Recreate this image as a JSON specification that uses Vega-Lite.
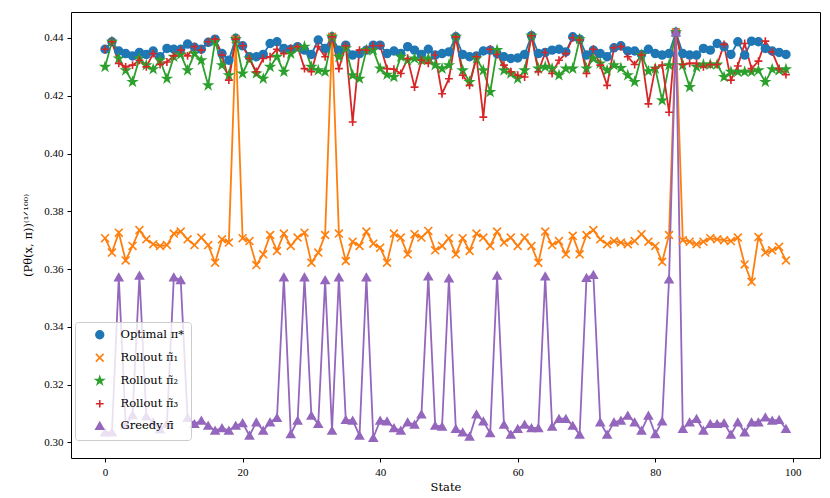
{
  "$schema": "https://vega.github.io/schema/vega-lite/v6.json",
  "width": 749,
  "height": 446,
  "autosize": {"type": "none"},
  "padding": {"left": 71, "top": 12, "right": 10, "bottom": 40},
  "background": "white",
  "data": {
    "values": [
      {"s": 0, "a": 0.4361, "b": 0.3707, "c": 0.4300, "d": 0.4361, "e": 0.3035},
      {"s": 1, "a": 0.4387, "b": 0.3657, "c": 0.4387, "d": 0.4387, "e": 0.3035},
      {"s": 2, "a": 0.4355, "b": 0.3726, "c": 0.4329, "d": 0.4312, "e": 0.3572},
      {"s": 3, "a": 0.4346, "b": 0.3630, "c": 0.4288, "d": 0.4300, "e": 0.3060},
      {"s": 4, "a": 0.4338, "b": 0.3680, "c": 0.4248, "d": 0.4306, "e": 0.3095},
      {"s": 5, "a": 0.4350, "b": 0.3735, "c": 0.4329, "d": 0.4323, "e": 0.3578},
      {"s": 6, "a": 0.4343, "b": 0.3703, "c": 0.4306, "d": 0.4300, "e": 0.3090},
      {"s": 7, "a": 0.4355, "b": 0.3686, "c": 0.4292, "d": 0.4346, "e": 0.3070},
      {"s": 8, "a": 0.4335, "b": 0.3680, "c": 0.4323, "d": 0.4308, "e": 0.3045},
      {"s": 9, "a": 0.4364, "b": 0.3683, "c": 0.4259, "d": 0.4317, "e": 0.3065},
      {"s": 10, "a": 0.4361, "b": 0.3723, "c": 0.4335, "d": 0.4338, "e": 0.3572},
      {"s": 11, "a": 0.4361, "b": 0.3730, "c": 0.4343, "d": 0.4358, "e": 0.3562},
      {"s": 12, "a": 0.4379, "b": 0.3703, "c": 0.4288, "d": 0.4338, "e": 0.3085},
      {"s": 13, "a": 0.4368, "b": 0.3683, "c": 0.4346, "d": 0.4370, "e": 0.3064},
      {"s": 14, "a": 0.4361, "b": 0.3709, "c": 0.4323, "d": 0.4358, "e": 0.3076},
      {"s": 15, "a": 0.4385, "b": 0.3683, "c": 0.4236, "d": 0.4387, "e": 0.3058},
      {"s": 16, "a": 0.4396, "b": 0.3622, "c": 0.4389, "d": 0.4396, "e": 0.3041},
      {"s": 17, "a": 0.4346, "b": 0.3703, "c": 0.4306, "d": 0.4341, "e": 0.3050},
      {"s": 18, "a": 0.4323, "b": 0.3692, "c": 0.4271, "d": 0.4254, "e": 0.3041},
      {"s": 19, "a": 0.4399, "b": 0.4396, "c": 0.4396, "d": 0.4396, "e": 0.3058},
      {"s": 20, "a": 0.4373, "b": 0.3707, "c": 0.4277, "d": 0.4373, "e": 0.3067},
      {"s": 21, "a": 0.4335, "b": 0.3697, "c": 0.4329, "d": 0.4329, "e": 0.3024},
      {"s": 22, "a": 0.4335, "b": 0.3614, "c": 0.4277, "d": 0.4283, "e": 0.3070},
      {"s": 23, "a": 0.4343, "b": 0.3651, "c": 0.4259, "d": 0.4329, "e": 0.3041},
      {"s": 24, "a": 0.4381, "b": 0.3718, "c": 0.4300, "d": 0.4335, "e": 0.3070},
      {"s": 25, "a": 0.4387, "b": 0.3663, "c": 0.4335, "d": 0.4361, "e": 0.3085},
      {"s": 26, "a": 0.4364, "b": 0.3723, "c": 0.4283, "d": 0.4346, "e": 0.3572},
      {"s": 27, "a": 0.4361, "b": 0.3680, "c": 0.4346, "d": 0.4364, "e": 0.3029},
      {"s": 28, "a": 0.4370, "b": 0.3709, "c": 0.4364, "d": 0.4370, "e": 0.3076},
      {"s": 29, "a": 0.4358, "b": 0.3726, "c": 0.4370, "d": 0.4294, "e": 0.3572},
      {"s": 30, "a": 0.4343, "b": 0.3622, "c": 0.4300, "d": 0.4283, "e": 0.3093},
      {"s": 31, "a": 0.4393, "b": 0.3657, "c": 0.4288, "d": 0.4370, "e": 0.3064},
      {"s": 32, "a": 0.4364, "b": 0.3718, "c": 0.4283, "d": 0.4335, "e": 0.3562},
      {"s": 33, "a": 0.4404, "b": 0.4404, "c": 0.4404, "d": 0.4404, "e": 0.3041},
      {"s": 34, "a": 0.4358, "b": 0.3723, "c": 0.4335, "d": 0.4294, "e": 0.3572},
      {"s": 35, "a": 0.4375, "b": 0.3628, "c": 0.4364, "d": 0.4373, "e": 0.3078},
      {"s": 36, "a": 0.4341, "b": 0.3695, "c": 0.4271, "d": 0.4109, "e": 0.3076},
      {"s": 37, "a": 0.4346, "b": 0.3680, "c": 0.4259, "d": 0.4358, "e": 0.3024},
      {"s": 38, "a": 0.4358, "b": 0.3730, "c": 0.4358, "d": 0.4358, "e": 0.3572},
      {"s": 39, "a": 0.4375, "b": 0.3688, "c": 0.4358, "d": 0.4373, "e": 0.3016},
      {"s": 40, "a": 0.4375, "b": 0.3674, "c": 0.4294, "d": 0.4373, "e": 0.3076},
      {"s": 41, "a": 0.4346, "b": 0.3622, "c": 0.4273, "d": 0.4294, "e": 0.3073},
      {"s": 42, "a": 0.4355, "b": 0.3723, "c": 0.4265, "d": 0.4292, "e": 0.3050},
      {"s": 43, "a": 0.4346, "b": 0.3709, "c": 0.4335, "d": 0.4277, "e": 0.3041},
      {"s": 44, "a": 0.4370, "b": 0.3651, "c": 0.4323, "d": 0.4329, "e": 0.3070},
      {"s": 45, "a": 0.4358, "b": 0.3721, "c": 0.4329, "d": 0.4230, "e": 0.3062},
      {"s": 46, "a": 0.4343, "b": 0.3709, "c": 0.4323, "d": 0.4323, "e": 0.3097},
      {"s": 47, "a": 0.4361, "b": 0.3732, "c": 0.4329, "d": 0.4312, "e": 0.3575},
      {"s": 48, "a": 0.4341, "b": 0.3665, "c": 0.4306, "d": 0.4341, "e": 0.3058},
      {"s": 49, "a": 0.4346, "b": 0.3680, "c": 0.4294, "d": 0.4207, "e": 0.3055},
      {"s": 50, "a": 0.4352, "b": 0.3707, "c": 0.4306, "d": 0.4259, "e": 0.3568},
      {"s": 51, "a": 0.4404, "b": 0.3651, "c": 0.4404, "d": 0.4404, "e": 0.3047},
      {"s": 52, "a": 0.4343, "b": 0.3707, "c": 0.4288, "d": 0.4271, "e": 0.3035},
      {"s": 53, "a": 0.4335, "b": 0.3663, "c": 0.4248, "d": 0.4236, "e": 0.3020},
      {"s": 54, "a": 0.4338, "b": 0.3723, "c": 0.4329, "d": 0.4335, "e": 0.3097},
      {"s": 55, "a": 0.4355, "b": 0.3709, "c": 0.4288, "d": 0.4126, "e": 0.3073},
      {"s": 56, "a": 0.4358, "b": 0.3680, "c": 0.4213, "d": 0.4361, "e": 0.3032},
      {"s": 57, "a": 0.4346, "b": 0.3730, "c": 0.4358, "d": 0.4343, "e": 0.3578},
      {"s": 58, "a": 0.4335, "b": 0.3692, "c": 0.4288, "d": 0.4306, "e": 0.3062},
      {"s": 59, "a": 0.4329, "b": 0.3709, "c": 0.4277, "d": 0.4283, "e": 0.3027},
      {"s": 60, "a": 0.4331, "b": 0.3680, "c": 0.4259, "d": 0.4271, "e": 0.3047},
      {"s": 61, "a": 0.4343, "b": 0.3709, "c": 0.4288, "d": 0.4265, "e": 0.3062},
      {"s": 62, "a": 0.4408, "b": 0.3680, "c": 0.4408, "d": 0.4408, "e": 0.3050},
      {"s": 63, "a": 0.4346, "b": 0.3622, "c": 0.4294, "d": 0.4283, "e": 0.3050},
      {"s": 64, "a": 0.4350, "b": 0.3730, "c": 0.4300, "d": 0.4350, "e": 0.3575},
      {"s": 65, "a": 0.4358, "b": 0.3683, "c": 0.4294, "d": 0.4277, "e": 0.3055},
      {"s": 66, "a": 0.4361, "b": 0.3697, "c": 0.4271, "d": 0.4323, "e": 0.3082},
      {"s": 67, "a": 0.4352, "b": 0.3651, "c": 0.4294, "d": 0.4346, "e": 0.3082},
      {"s": 68, "a": 0.4404, "b": 0.3715, "c": 0.4294, "d": 0.4401, "e": 0.3058},
      {"s": 69, "a": 0.4396, "b": 0.3651, "c": 0.4396, "d": 0.4393, "e": 0.3027},
      {"s": 70, "a": 0.4341, "b": 0.3718, "c": 0.4294, "d": 0.4277, "e": 0.3570},
      {"s": 71, "a": 0.4358, "b": 0.3735, "c": 0.4329, "d": 0.4361, "e": 0.3580},
      {"s": 72, "a": 0.4346, "b": 0.3703, "c": 0.4312, "d": 0.4306, "e": 0.3070},
      {"s": 73, "a": 0.4335, "b": 0.3686, "c": 0.4288, "d": 0.4236, "e": 0.3027},
      {"s": 74, "a": 0.4366, "b": 0.3697, "c": 0.4306, "d": 0.4366, "e": 0.3070},
      {"s": 75, "a": 0.4373, "b": 0.3692, "c": 0.4296, "d": 0.4370, "e": 0.3076},
      {"s": 76, "a": 0.4355, "b": 0.3686, "c": 0.4271, "d": 0.4335, "e": 0.3093},
      {"s": 77, "a": 0.4355, "b": 0.3697, "c": 0.4248, "d": 0.4308, "e": 0.3070},
      {"s": 78, "a": 0.4343, "b": 0.3721, "c": 0.4341, "d": 0.4341, "e": 0.3041},
      {"s": 79, "a": 0.4361, "b": 0.3695, "c": 0.4285, "d": 0.4172, "e": 0.3093},
      {"s": 80, "a": 0.4346, "b": 0.3680, "c": 0.4294, "d": 0.4296, "e": 0.3029},
      {"s": 81, "a": 0.4341, "b": 0.3625, "c": 0.4184, "d": 0.4306, "e": 0.3073},
      {"s": 82, "a": 0.4346, "b": 0.3718, "c": 0.4306, "d": 0.4143, "e": 0.3565},
      {"s": 83, "a": 0.4420, "b": 0.4420, "c": 0.4420, "d": 0.4420, "e": 0.4420},
      {"s": 84, "a": 0.4346, "b": 0.3700, "c": 0.4306, "d": 0.4308, "e": 0.3047},
      {"s": 85, "a": 0.4341, "b": 0.3695, "c": 0.4230, "d": 0.4312, "e": 0.3070},
      {"s": 86, "a": 0.4341, "b": 0.3686, "c": 0.4300, "d": 0.4312, "e": 0.3082},
      {"s": 87, "a": 0.4364, "b": 0.3695, "c": 0.4308, "d": 0.4300, "e": 0.3041},
      {"s": 88, "a": 0.4358, "b": 0.3707, "c": 0.4308, "d": 0.4308, "e": 0.3064},
      {"s": 89, "a": 0.4381, "b": 0.3703, "c": 0.4308, "d": 0.4308, "e": 0.3064},
      {"s": 90, "a": 0.4370, "b": 0.3700, "c": 0.4265, "d": 0.4378, "e": 0.3067},
      {"s": 91, "a": 0.4343, "b": 0.3697, "c": 0.4283, "d": 0.4254, "e": 0.3027},
      {"s": 92, "a": 0.4387, "b": 0.3709, "c": 0.4283, "d": 0.4303, "e": 0.3070},
      {"s": 93, "a": 0.4341, "b": 0.3616, "c": 0.4283, "d": 0.4381, "e": 0.3035},
      {"s": 94, "a": 0.4389, "b": 0.3556, "c": 0.4283, "d": 0.4294, "e": 0.3070},
      {"s": 95, "a": 0.4387, "b": 0.3711, "c": 0.4288, "d": 0.4320, "e": 0.3070},
      {"s": 96, "a": 0.4364, "b": 0.3657, "c": 0.4248, "d": 0.4389, "e": 0.3087},
      {"s": 97, "a": 0.4355, "b": 0.3665, "c": 0.4292, "d": 0.4352, "e": 0.3076},
      {"s": 98, "a": 0.4350, "b": 0.3677, "c": 0.4288, "d": 0.4294, "e": 0.3078},
      {"s": 99, "a": 0.4343, "b": 0.3630, "c": 0.4292, "d": 0.4273, "e": 0.3047}
    ]
  },
  "transform": [{"fold": ["a", "b", "c", "d", "e"], "as": ["series", "value"]}],
  "encoding": {
    "x": {
      "field": "s",
      "type": "quantitative",
      "scale": {"domain": [-4.95, 103.95], "nice": false, "zero": false},
      "axis": {"values": [0, 20, 40, 60, 80, 100], "title": "State"}
    },
    "y": {
      "field": "value",
      "type": "quantitative",
      "scale": {"domain": [0.2946, 0.449], "nice": false, "zero": false},
      "axis": {
        "values": [0.30, 0.32, 0.34, 0.36, 0.38, 0.40, 0.42, 0.44],
        "format": ".2f",
        "title": "(P\u03b8(x, \u03c0))\u207d\u00b9\u141f\u00b9\u2070\u2070\u207e",
        "titlePadding": 10
      }
    },
    "color": {
      "field": "series",
      "type": "nominal",
      "scale": {
        "domain": ["a", "b", "c", "d", "e"],
        "range": ["#1f77b4", "#ff7f0e", "#2ca02c", "#d62728", "#9467bd"]
      },
      "legend": {
        "title": null,
        "orient": "none",
        "legendX": 4,
        "legendY": 310,
        "padding": 7,
        "rowPadding": 8,
        "fillColor": "rgba(255,255,255,0.8)",
        "strokeColor": "#cccccc",
        "cornerRadius": 3,
        "symbolSize": 60,
        "symbolOffset": 12,
        "labelOffset": 15,
        "symbolStrokeWidth": 1.6,
        "labelFont": "DejaVu Serif",
        "labelFontSize": 11.5,
        "labelExpr": "{'a': 'Optimal \u03c0*', 'b': 'Rollout \u03c0\u0303\u2081', 'c': 'Rollout \u03c0\u0303\u2082', 'd': 'Rollout \u03c0\u0303\u2083', 'e': 'Greedy \u03c0\u0304'}[datum.label]",
        "encode": {
          "symbols": {"update": {"stroke": {"scale": "color", "field": "value"}}}
        }
      }
    }
  },
  "layer": [
    {"mark": {"type": "line", "strokeWidth": 1.8}},
    {
      "mark": {"type": "point", "filled": true, "size": 62, "opacity": 1, "strokeWidth": 1.6},
      "encoding": {
        "shape": {
          "field": "series",
          "type": "nominal",
          "scale": {
            "domain": ["a", "b", "c", "d", "e"],
            "range": [
              "circle",
              "M-1,-1L1,1M-1,1L1,-1",
              "M0,-1L0.223,-0.307L0.951,-0.309L0.361,0.117L0.588,0.809L0,0.38L-0.588,0.809L-0.361,0.117L-0.951,-0.309L-0.223,-0.307Z",
              "M-1,0L1,0M0,-1L0,1",
              "triangle-up"
            ]
          }
        },
        "stroke": {
          "field": "series",
          "type": "nominal",
          "scale": {
            "domain": ["a", "b", "c", "d", "e"],
            "range": ["#1f77b4", "#ff7f0e", "#2ca02c", "#d62728", "#9467bd"]
          },
          "legend": null
        }
      }
    }
  ],
  "config": {
    "font": "Liberation Serif",
    "view": {"stroke": "black", "strokeWidth": 1},
    "axis": {
      "domain": false,
      "grid": false,
      "ticks": true,
      "tickSize": 4,
      "tickColor": "black",
      "labelColor": "black",
      "labelFont": "Liberation Serif",
      "labelFontSize": 11,
      "titleFont": "DejaVu Serif",
      "titleFontSize": 11.5,
      "titleFontWeight": "normal",
      "titleColor": "black",
      "labelPadding": 4
    },
    "legend": {"labelColor": "black"}
  }
}
